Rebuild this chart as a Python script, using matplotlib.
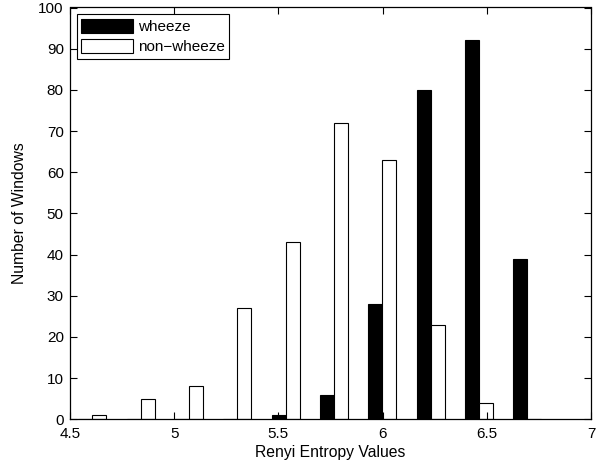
import matplotlib
matplotlib.use("Agg")
import matplotlib.pyplot as plt
import numpy as np

plt.rcParams['font.family'] = ['Liberation Sans', 'DejaVu Sans']

bin_centers = [4.607, 4.839, 5.071, 5.303, 5.535, 5.767, 5.999, 6.231, 6.463, 6.695]
wheeze = [0, 0, 0, 0, 1, 6, 28, 80, 92, 39]
non_wheeze = [1, 5, 8, 27, 43, 72, 63, 23, 4, 0]
labels = ["wheeze", "non\u2212wheeze"]
xticks = [4.5, 5, 5.5, 6, 6.5, 7]
yticks = list(range(0, 101, 10))

fig = plt.figure(figsize=(6.05, 4.66), dpi=100)
ax = fig.add_axes([70/605, (466-419.3)/466, (591-70)/605, (419.3-7.5)/466])

x = np.array(bin_centers)
w = 0.0672
ax.bar(x - w/2, wheeze, width=w, color='black', edgecolor='black', linewidth=0.8, label=labels[0])
ax.bar(x + w/2, non_wheeze, width=w, color='white', edgecolor='black', linewidth=0.8, label=labels[1])

ax.set_xlim(4.5, 7)
ax.set_ylim(0, 100)
ax.set_xticks(xticks)
ax.set_xticklabels([f"{t:g}" for t in xticks])
ax.set_yticks(yticks)
ax.tick_params(direction='in', top=True, right=True, length=5, width=0.8, labelsize=11)
ax.tick_params(axis='x', pad=5.5)
ax.tick_params(axis='y', pad=4.5)
for s in ax.spines.values():
    s.set_linewidth(0.9)
ax.set_xlabel("Renyi Entropy Values", fontsize=11.3, labelpad=3)
ax.set_ylabel("Number of Windows", fontsize=11.3, labelpad=8)

leg = ax.legend(loc='upper left', bbox_to_anchor=(0.0, 1.0), borderaxespad=0.45,
                fancybox=False, edgecolor='black', framealpha=1, fontsize=11,
                handlelength=3.4, handleheight=1.05, handletextpad=0.3,
                labelspacing=0.3, borderpad=0.3)
leg.get_frame().set_linewidth(0.8)

fig.savefig("out.png", dpi=100)
